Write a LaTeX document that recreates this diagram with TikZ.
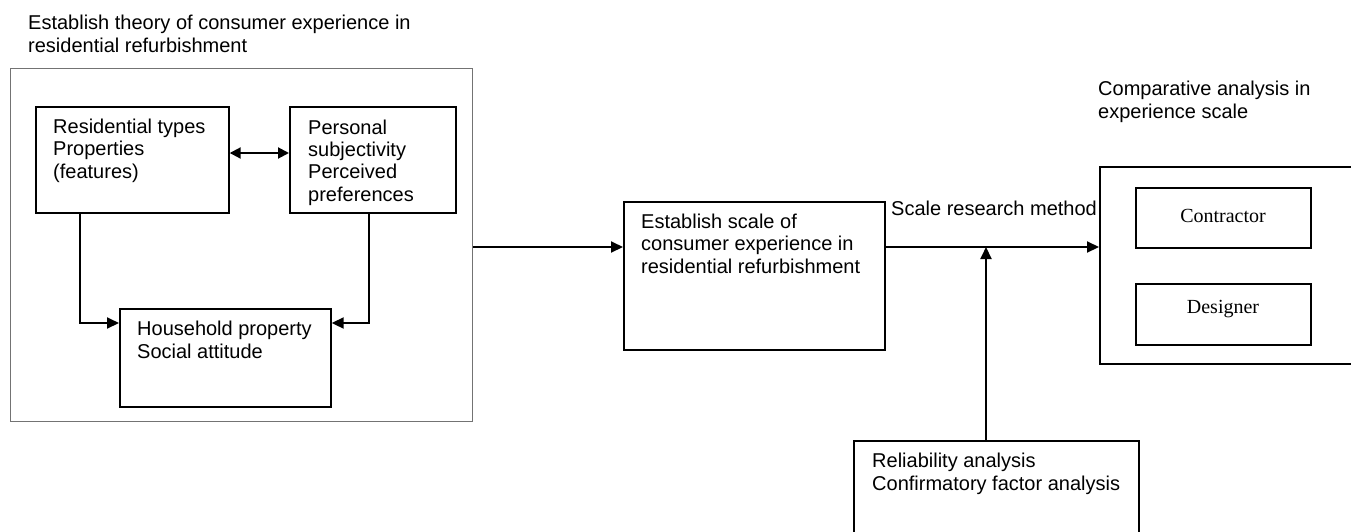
\documentclass[tikz,border=0pt]{standalone}
\usepackage{fontspec}
\setmainfont{Liberation Sans}
\newfontfamily\serifface{Liberation Serif}
\usetikzlibrary{arrows.meta}
\tikzset{
  box/.style={draw=black, line width=1.7pt, rectangle, inner sep=0pt},
  outerbox/.style={draw=black!55, line width=1.3pt, rectangle, inner sep=0pt},
  txt/.style={inner sep=0pt, anchor=base west, align=left, font=\fontsize{20}{22.3}\selectfont},
  stxt/.style={inner sep=0pt, anchor=base, align=center, font=\serifface\fontsize{20}{22.5}\selectfont},
  conn/.style={line width=2pt, -{Triangle[length=12pt,width=11pt]}},
  bconn/.style={line width=2pt, {Triangle[length=11pt,width=11pt]}-{Triangle[length=11pt,width=11pt]}}
}
\begin{document}
\begin{tikzpicture}[x=1pt,y=-1pt]
\useasboundingbox (0,0) rectangle (1351,531);
\clip (0,0) rectangle (1351,531);
% boxes
\node[outerbox, minimum width=462pt, minimum height=353pt, anchor=north west] (outer) at (10,68) {};
\node[box, minimum width=193pt, minimum height=106pt, anchor=north west] (A) at (35,106) {};
\node[box, minimum width=166pt, minimum height=106pt, anchor=north west] (B) at (289,106) {};
\node[box, minimum width=211pt, minimum height=98pt, anchor=north west] (C) at (119,308) {};
\node[box, minimum width=261pt, minimum height=148pt, anchor=north west] (D) at (623,201) {};
\node[box, minimum width=270pt, minimum height=197pt, anchor=north west] (E) at (1099,166) {};
\node[box, minimum width=175pt, minimum height=60pt, anchor=north west] (Con) at (1135,187) {};
\node[box, minimum width=175pt, minimum height=61pt, anchor=north west] (Des) at (1135,283) {};
\node[box, minimum width=285pt, minimum height=110pt, anchor=north west] (F) at (853,440) {};
% texts (anchor = baseline of last line)
\node[txt] (t1) at (28,52) {Establish theory of consumer experience in\\residential refurbishment};
\node[txt] (tA) at (53,178) {Residential types\\Properties\\(features)};
\node[txt] (tB) at (308,201) {Personal\\subjectivity\\Perceived\\preferences};
\node[txt] (tC) at (137,358) {Household property\\Social attitude};
\node[txt] (tD) at (641,273) {Establish scale of\\consumer experience in\\residential refurbishment};
\node[txt] (tS) at (891,215) {Scale research method};
\node[txt] (tE) at (1098,118) {Comparative analysis in\\experience scale};
\node[stxt] (tCon) at (1223,222) {Contractor};
\node[stxt] (tDes) at (1223,313) {Designer};
\node[txt] (tF) at (872,490) {Reliability analysis\\Confirmatory factor analysis};
% connector helpers
\coordinate (yab) at (0,153);
\coordinate (yc) at (0,323);
\coordinate (xl) at (80,0);
\coordinate (xr) at (369,0);
\coordinate (ym) at (0,247);
\coordinate (j) at (986,247);
% connectors
\draw[bconn] (A.east |- yab) -- (B.west |- yab);
\draw[conn] (A.south -| xl) |- (C.west |- yc);
\draw[conn] (B.south -| xr) |- (C.east |- yc);
\draw[conn] (outer.east |- ym) -- (D.west |- ym);
\draw[conn] (D.east |- ym) -- (E.west |- ym);
\draw[conn] (F.north -| j) -- (j);
\end{tikzpicture}
\end{document}
